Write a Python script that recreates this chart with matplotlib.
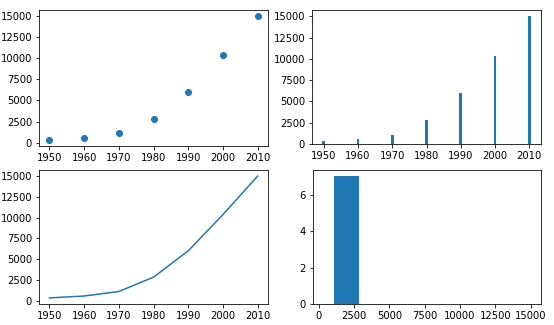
import matplotlib
matplotlib.use("Agg")
import matplotlib.pyplot as plt
from matplotlib.ticker import MultipleLocator

years = [1950, 1960, 1970, 1980, 1990, 2000, 2010]
values = [330, 560, 1100, 2830, 6000, 10360, 15000]

fig = plt.figure(figsize=(554 / 72, 325 / 72), dpi=72)

ax1 = fig.add_axes([0.0704, 0.5508, 0.4134, 0.4185])
ax1.scatter(years, values)

ax2 = fig.add_axes([0.5632, 0.5569, 0.4134, 0.4123])
ax2.bar(years, values)

ax3 = fig.add_axes([0.0704, 0.0646, 0.4134, 0.4123])
ax3.plot(years, values)

for ax in (ax1, ax2, ax3):
    ax.yaxis.set_major_locator(MultipleLocator(2500))

ax4 = fig.add_axes([0.565, 0.0646, 0.4116, 0.4123])
ax4.hist(years, bins=values)

fig.savefig("out.png", dpi=72)
